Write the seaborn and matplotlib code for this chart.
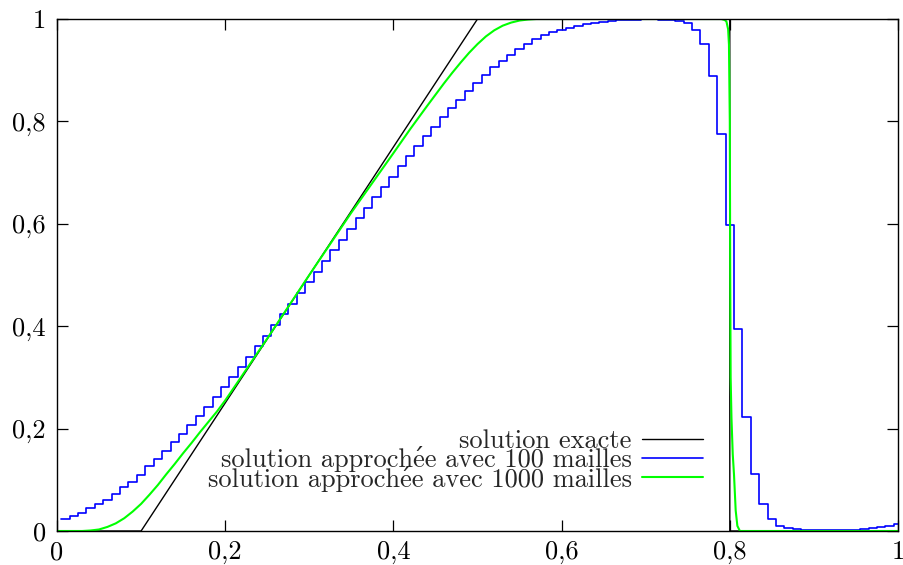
import numpy as np
import matplotlib
matplotlib.use("Agg")
import matplotlib.pyplot as plt
import seaborn as sns

# ---- data -------------------------------------------------------------
# exact solution (rarefaction 0.1 -> 0.5, shock at 0.8)
exact_x = [0.0, 0.1, 0.5, 0.8, 0.8, 1.0]
exact_y = [0.0, 0.0, 1.0, 1.0, 0.0, 0.0]

# approximate solution, 100 cells (cell values)
blue_y = [
    0.024, 0.029, 0.036, 0.044, 0.052, 0.061, 0.073, 0.085, 0.096, 0.109,
    0.126, 0.140, 0.157, 0.173, 0.190, 0.208, 0.225, 0.243, 0.262, 0.282,
    0.300, 0.320, 0.340, 0.361, 0.381, 0.402, 0.423, 0.444, 0.465, 0.486,
    0.506, 0.527, 0.548, 0.569, 0.590, 0.611, 0.631, 0.652, 0.672, 0.692,
    0.713, 0.732, 0.751, 0.771, 0.790, 0.809, 0.826, 0.842, 0.859, 0.875,
    0.891, 0.906, 0.918, 0.930, 0.941, 0.951, 0.960, 0.968, 0.975, 0.979,
    0.983, 0.986, 0.990, 0.993, 0.995, 0.997, 0.998, 0.999, 0.999, 1.000,
    1.000, 0.999, 0.998, 0.996, 0.992, 0.979, 0.951, 0.889, 0.775, 0.598,
    0.394, 0.223, 0.112, 0.052, 0.023, 0.010, 0.005, 0.003, 0.002, 0.001,
    0.001, 0.001, 0.001, 0.002, 0.002, 0.003, 0.005, 0.007, 0.010, 0.014,
]
blue_x = [0.005 + 0.01 * i for i in range(100)]
blue_x_plot = blue_x + [1.0]
blue_y_plot = blue_y + [blue_y[-1]]

# approximate solution, 1000 cells
green_x = [0.00, 0.03, 0.04, 0.05, 0.06, 0.07, 0.08, 0.09, 0.10, 0.11,
           0.12, 0.13, 0.14, 0.15, 0.16, 0.17, 0.18, 0.19, 0.20, 0.21,
           0.25, 0.30, 0.35, 0.40, 0.42, 0.44, 0.46, 0.47, 0.48, 0.49,
           0.50, 0.51, 0.52, 0.53, 0.54, 0.55, 0.56, 0.57, 0.58, 0.60,
           0.70, 0.79, 0.794, 0.796, 0.798, 0.799, 0.800, 0.8005, 0.801, 0.802,
           0.8035, 0.805, 0.807, 0.809, 0.812, 1.0]
green_y = [0.000, 0.000, 0.001, 0.003, 0.008, 0.015, 0.025, 0.038, 0.053, 0.071,
           0.090, 0.111, 0.131, 0.152, 0.172, 0.193, 0.213, 0.233, 0.255, 0.279,
           0.376, 0.500, 0.622, 0.738, 0.785, 0.830, 0.874, 0.895, 0.915, 0.934,
           0.951, 0.966, 0.978, 0.987, 0.993, 0.997, 0.999, 1.000, 1.000, 1.000,
           1.000, 1.000, 0.998, 0.995, 0.980, 0.950, 0.800, 0.500, 0.300, 0.220,
           0.150, 0.110, 0.040, 0.010, 0.000, 0.000]

labels = ["solution exacte",
          "solution approche\u0301e avec 100 mailles",
          "solution approche\u0301e avec 1000 mailles"]
ticks = [0.0, 0.2, 0.4, 0.6, 0.8, 1.0]
tick_labels = ["0", "0,2", "0,4", "0,6", "0,8", "1"]

# ---- style ------------------------------------------------------------
sns.set_style("ticks")
plt.rcParams["font.family"] = ["cmr10", "DejaVu Serif"]
plt.rcParams["axes.unicode_minus"] = False
FS = 19

fig = plt.figure(figsize=(9.04, 5.65), dpi=100)
ax = fig.add_axes([57 / 904, 1 - 531 / 565, 841 / 904, 512 / 565])

sns.lineplot(x=exact_x, y=exact_y, ax=ax, color="#000000", lw=1.0,
             estimator=None, sort=False, label=labels[0])
sns.lineplot(x=blue_x_plot, y=blue_y_plot, ax=ax, color="#0000ff", lw=1.2,
             estimator=None, sort=False, drawstyle="steps-post", label=labels[1])
sns.lineplot(x=green_x, y=green_y, ax=ax, color="#00ff00", lw=1.5,
             estimator=None, sort=False, label=labels[2])

ax.set_xlim(0, 1)
ax.set_ylim(0, 1)
ax.set_xticks(ticks)
ax.set_xticklabels(tick_labels)
ax.set_yticks(ticks)
ax.set_yticklabels(tick_labels)
ax.tick_params(direction="in", length=8, width=0.9, top=True, right=True,
               labelsize=FS, color="#000000", labelcolor="#000000")
ax.tick_params(axis="x", pad=7)
ax.tick_params(axis="y", pad=8)
for s in ax.spines.values():
    s.set_visible(True)
    s.set_linewidth(1.0)
    s.set_color("#000000")
ax.set_xlabel("")
ax.set_ylabel("")

leg = ax.legend(loc="lower right", bbox_to_anchor=(0.768, 0.077),
                frameon=False, markerfirst=False, fontsize=FS,
                handlelength=2.3, handletextpad=0.4, labelspacing=-0.25,
                borderpad=0, borderaxespad=0)

fig.savefig("out.png", dpi=100)
